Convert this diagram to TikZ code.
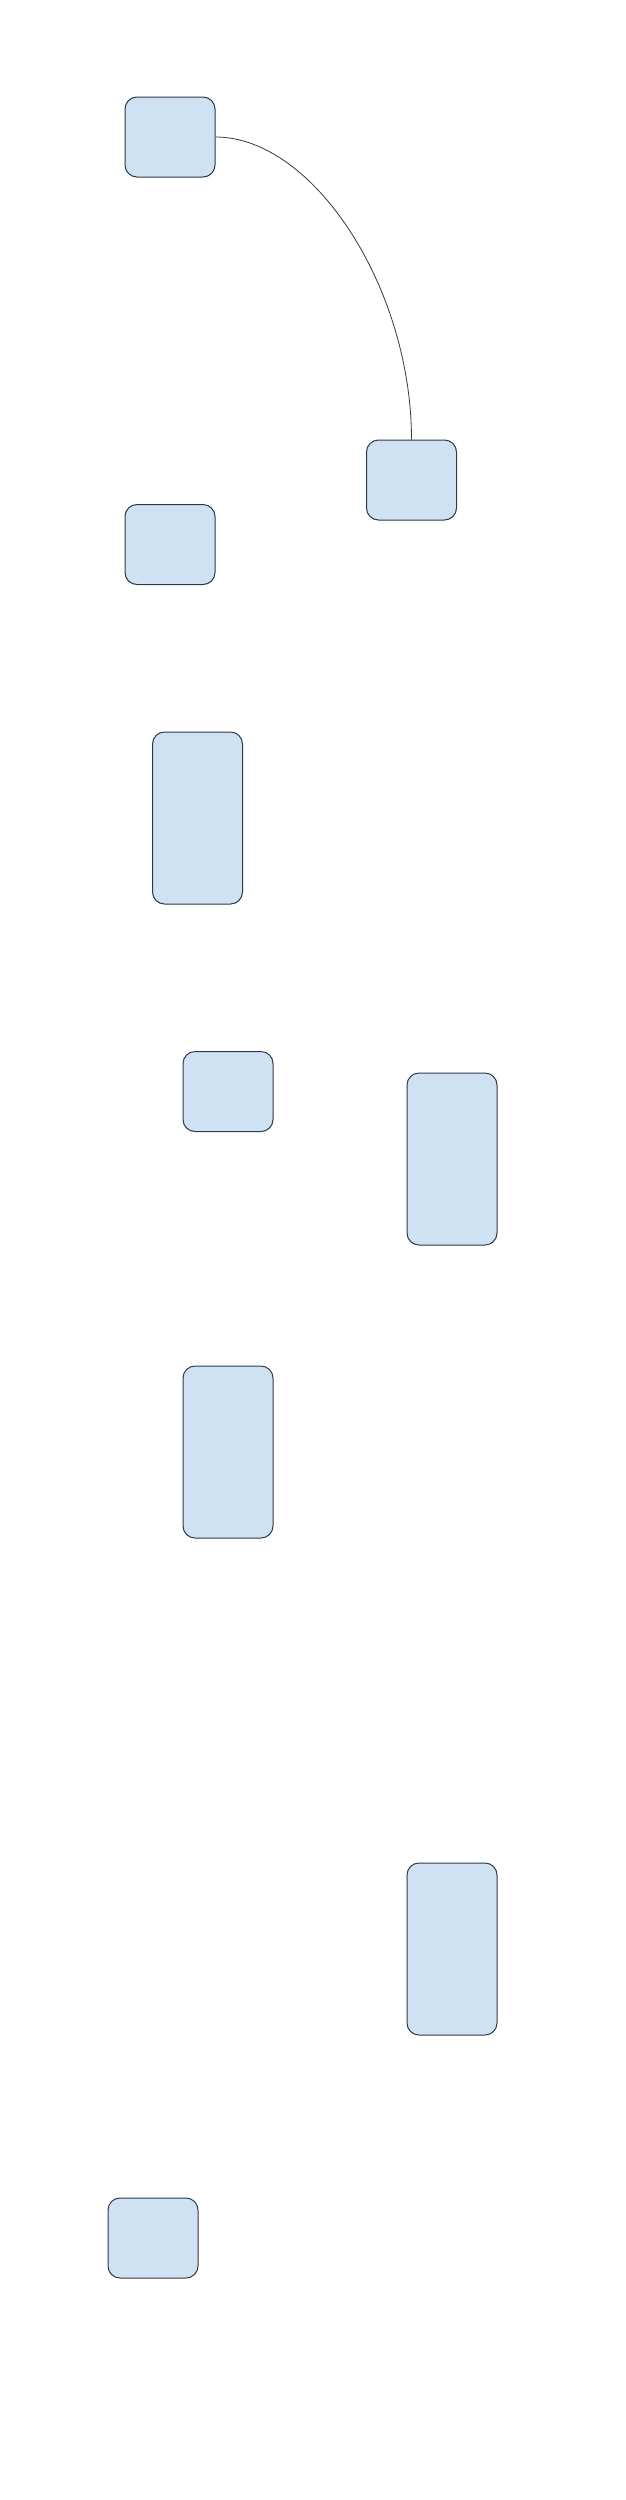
\documentclass[tikz,border=0pt]{standalone}
\usepackage{xcolor}
\definecolor{boxfill}{HTML}{CFE2F3}
\definecolor{boxline}{HTML}{2E3A48}
\begin{document}
\begin{tikzpicture}[x=1pt,y=-1pt,
  box/.style={draw=boxline,fill=boxfill,line width=1pt,rounded corners=12pt,inner sep=0pt,minimum width=90pt,minimum height=80pt},
  tallbox/.style={box,minimum height=172pt},
  link/.style={draw=boxline,line width=0.8pt}]
\fill[white] (0,0) rectangle (625,2500);
\useasboundingbox (0,0) rectangle (625,2500);
\node[box] (b1) at (170,137) {};
\node[box] (b2) at (411.5,480) {};
\node[box] (b3) at (170,544.5) {};
\node[tallbox] (b4) at (197.5,818) {};
\node[box] (b5) at (228,1091.5) {};
\node[tallbox] (b6) at (452,1159) {};
\node[tallbox] (b7) at (228,1452) {};
\node[tallbox] (b8) at (452,1949) {};
\node[box] (b9) at (153,2238) {};
\draw[link] (b1.east) .. controls +(98,0) and +(0,-151.5) .. (b2.north);
\end{tikzpicture}
\end{document}
